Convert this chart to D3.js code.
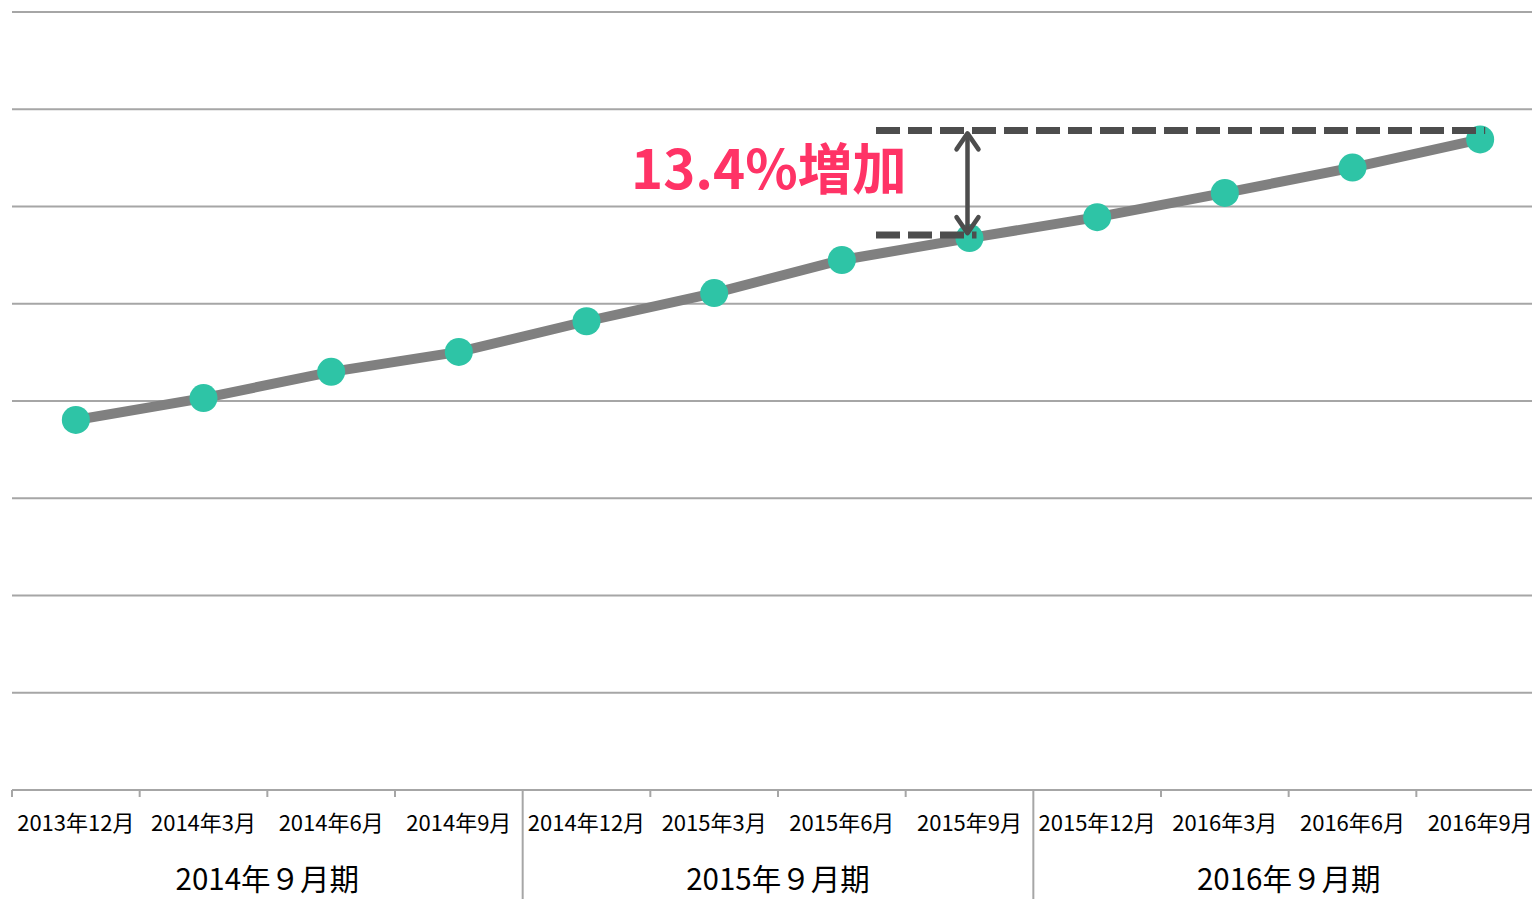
<!DOCTYPE html>
<html><head><meta charset="utf-8">
<script src="https://cdn.jsdelivr.net/npm/d3@7"></script>
<style>html,body{margin:0;padding:0;background:#fff;overflow:hidden}svg{display:block}</style>
</head><body>
<svg id="c" width="1532" height="899"></svg>
<script>
const categories = ["2013年12月","2014年3月","2014年6月","2014年9月","2014年12月","2015年3月","2015年6月","2015年9月","2015年12月","2016年3月","2016年6月","2016年9月"];
const values = [380.5, 403, 430, 450.5, 482, 511, 545, 567.5, 589, 614, 640, 669];
const groups = ["2014年９月期","2015年９月期","2016年９月期"];
const groupSize = 4;
const yTicks = [0,100,200,300,400,500,600,700,800];
const annotation = "13.4%増加";
const annoFrom = 7, annoTo = 11;

const svg = d3.select("#c");
const L = 12, R = 1544, T = 12, B = 790;
const x = d3.scaleBand().domain(categories).range([L, R]);
const y = d3.scaleLinear().domain([0, 800]).range([B, T]);
const font = "'Noto Sans CJK JP','Noto Sans',sans-serif";

// gridlines
svg.append("g").selectAll("line").data(yTicks.filter(d=>d>0)).join("line")
  .attr("x1", L).attr("x2", 1532).attr("y1", d=>y(d)).attr("y2", d=>y(d))
  .attr("stroke", "#a6a6a6").attr("stroke-width", 2);

// axis
svg.append("line").attr("x1", L).attr("x2", 1532).attr("y1", B).attr("y2", B)
  .attr("stroke", "#a6a6a6").attr("stroke-width", 2);
const bounds = categories.map((c,i)=>i).concat([categories.length]);
svg.append("g").selectAll("line").data(bounds).join("line")
  .attr("x1", i => i < categories.length ? x(categories[i]) : R)
  .attr("x2", i => i < categories.length ? x(categories[i]) : R)
  .attr("y1", B).attr("y2", i => (i % groupSize === 0 && i>0 && i<categories.length) ? 899 : B+7)
  .attr("stroke", "#a6a6a6").attr("stroke-width", 2);

svg.append("g").selectAll("text").data(categories).join("text")
  .attr("x", d => x(d) + x.bandwidth()/2).attr("y", 831)
  .attr("text-anchor", "middle").attr("font-family", font).attr("font-size", 22)
  .attr("fill", "#000").text(d=>d);

svg.append("g").selectAll("text").data(groups).join("text")
  .attr("x", (d,i) => x(categories[i*groupSize]) + x.bandwidth()*groupSize/2).attr("y", 890)
  .attr("text-anchor", "middle").attr("font-family", font).attr("font-size", 29.5)
  .attr("fill", "#000").text(d=>d);

// line
const line = d3.line().x((d,i)=>x(categories[i]) + x.bandwidth()/2).y(d=>y(d));
svg.append("path").datum(values).attr("d", line).attr("fill","none")
  .attr("stroke","#808080").attr("stroke-width",10);

// dashed annotation
const xa = x(categories[annoFrom]) + x.bandwidth()/2;
const xb = x(categories[annoTo]) + x.bandwidth()/2;
const ya = y(values[annoFrom]) - 3, yb = y(values[annoTo]) - 9;
const dashStart = 876;

svg.selectAll("circle").data(values).join("circle")
  .attr("cx",(d,i)=>x(categories[i]) + x.bandwidth()/2).attr("cy", d=>y(d)).attr("r",14)
  .attr("fill","#2ec4a6");

svg.append("line").attr("x1", dashStart).attr("x2", xb+5).attr("y1", yb).attr("y2", yb)
  .attr("stroke","#4d4d4d").attr("stroke-width",7).attr("stroke-dasharray","24 8");
svg.append("line").attr("x1", dashStart).attr("x2", xa+7).attr("y1", ya).attr("y2", ya)
  .attr("stroke","#4d4d4d").attr("stroke-width",7).attr("stroke-dasharray","24 8");

const ax = xa - 2;
svg.append("line").attr("x1", ax).attr("x2", ax).attr("y1", yb+3).attr("y2", ya-2)
  .attr("stroke","#4d4d4d").attr("stroke-width",4.5);
const head = (yy, dir) => `M${ax-11},${yy+dir*16} L${ax},${yy} L${ax+11},${yy+dir*16}`;
svg.append("path").attr("d", head(yb+3, 1)).attr("fill","none").attr("stroke","#4d4d4d")
  .attr("stroke-width",4.5).attr("stroke-linecap","round").attr("stroke-linejoin","round");
svg.append("path").attr("d", head(ya-2, -1)).attr("fill","none").attr("stroke","#4d4d4d")
  .attr("stroke-width",4.5).attr("stroke-linecap","round").attr("stroke-linejoin","round");

svg.append("text").attr("x", 631).attr("y", 189).attr("font-family", font)
  .attr("font-weight", "bold").attr("font-size", 54.5).attr("fill", "#ff3366")
  .text(annotation);
</script>
</body></html>
